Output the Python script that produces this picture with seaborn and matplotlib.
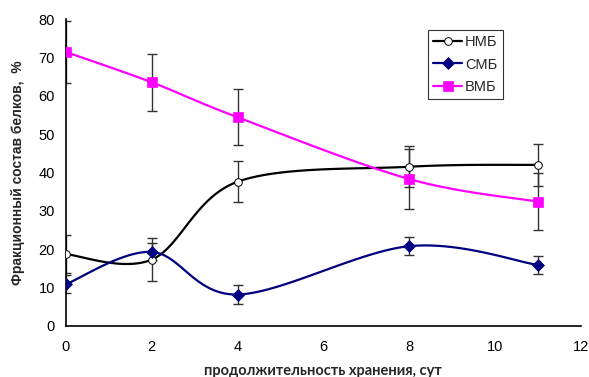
import numpy as np
import pandas as pd
import seaborn as sns
import matplotlib
matplotlib.use("Agg")
import matplotlib.pyplot as plt
from matplotlib.lines import Line2D

# storage time, days
days = [0, 2, 4, 8, 11]

# protein fractions, %
nmb = [18.7, 17.3, 37.6, 41.5, 42.0]
smb = [10.9, 19.3, 8.2, 20.8, 15.9]
vmb = [71.4, 63.5, 54.4, 38.3, 32.4]

# error bar half-widths
nmb_err = [5.0, 5.5, 5.4, 5.3, 5.5]
smb_err = [2.4, 2.2, 2.4, 2.4, 2.3]
vmb_err = [8.2, 7.4, 7.3, 7.7, 7.5]

series_names = ["НМБ", "СМБ", "ВМБ"]
x_ticks = [0, 2, 4, 6, 8, 10, 12]
y_ticks = [0, 10, 20, 30, 40, 50, 60, 70, 80]


def smooth(xs, ys, n=30):
    # excel-like smoothed line: cardinal bezier through the points
    p = np.column_stack([xs, ys]).astype(float)
    p_ext = np.vstack([p[0], p, p[-1]])
    out = []
    t = np.linspace(0, 1, n)[:, None]
    for i in range(1, len(p_ext) - 2):
        p0, p1, p2, p3 = p_ext[i - 1], p_ext[i], p_ext[i + 1], p_ext[i + 2]
        c1 = p1 + (p2 - p0) / 6
        c2 = p2 - (p3 - p1) / 6
        seg = ((1 - t) ** 3) * p1 + 3 * ((1 - t) ** 2) * t * c1 + 3 * (1 - t) * t ** 2 * c2 + t ** 3 * p2
        out.append(seg if i == 1 else seg[1:])
    out = np.vstack(out)
    return out[:, 0], out[:, 1]


sns.set_style("white")
plt.rcParams["font.family"] = ["Liberation Sans", "DejaVu Sans"]

fig = plt.figure(figsize=(5.89, 3.77), dpi=100)
ax = fig.add_axes([0.112, 0.1353, 0.874, 0.8143])

styles = [
    dict(color="black", marker="o", mfc="white", ms=5.5, mew=0.7),
    dict(color="#000080", marker="D", mfc="#000080", ms=6, mew=0.5),
    dict(color="#FF00FF", marker="s", mfc="#FF00FF", ms=7, mew=0.5),
]

for vals, errs in [(nmb, nmb_err), (smb, smb_err), (vmb, vmb_err)]:
    ax.errorbar(days, vals, yerr=errs, fmt="none", ecolor="#333333",
                elinewidth=1.0, capsize=3.5, capthick=1.0, zorder=2)

handles = []
for name, vals, st in zip(series_names, [nmb, smb, vmb], styles):
    sx, sy = smooth(days, vals)
    curve = pd.DataFrame({"x": sx, "y": sy})
    sns.lineplot(data=curve, x="x", y="y", sort=False, estimator=None,
                 color=st["color"], linewidth=1.6, ax=ax, zorder=3)
    ax.plot(days, vals, linestyle="none", marker=st["marker"], ms=st["ms"],
            mfc=st["mfc"], mec=st["color"], mew=st["mew"], zorder=4)
    handles.append(Line2D([], [], color=st["color"], linewidth=1.6,
                          marker=st["marker"], ms=st["ms"], mfc=st["mfc"],
                          mec=st["color"], mew=st["mew"], label=name))

ax.set_xlim(0, 12)
ax.set_ylim(0, 80)
ax.set_xticks(x_ticks)
ax.set_yticks(y_ticks)
ax.tick_params(axis="x", direction="in", length=4, width=1, labelsize=10.5, pad=10, colors="black")
ax.tick_params(axis="y", length=0, labelsize=10.5, pad=8, colors="black")
for side in ["top", "right"]:
    ax.spines[side].set_visible(False)
for side in ["left", "bottom"]:
    ax.spines[side].set_color("black")
    ax.spines[side].set_linewidth(1.2)

ax.set_xlabel("продолжительность хранения, сут", fontsize=10.5, fontweight="bold",
              family=["Lato", "DejaVu Sans"], labelpad=7)
ax.set_ylabel("Фракционный состав белков,  %", fontsize=10, fontweight="bold", labelpad=10)

leg = ax.legend(handles=handles, loc="upper left", bbox_to_anchor=(0.703, 0.965),
                frameon=True, fancybox=False, fontsize=10.5, handlelength=2.0,
                borderpad=0.35, labelspacing=0.6, handletextpad=0.2, borderaxespad=0)
leg.get_frame().set_edgecolor("black")
leg.get_frame().set_linewidth(0.8)

fig.savefig("out.png", dpi=100)
